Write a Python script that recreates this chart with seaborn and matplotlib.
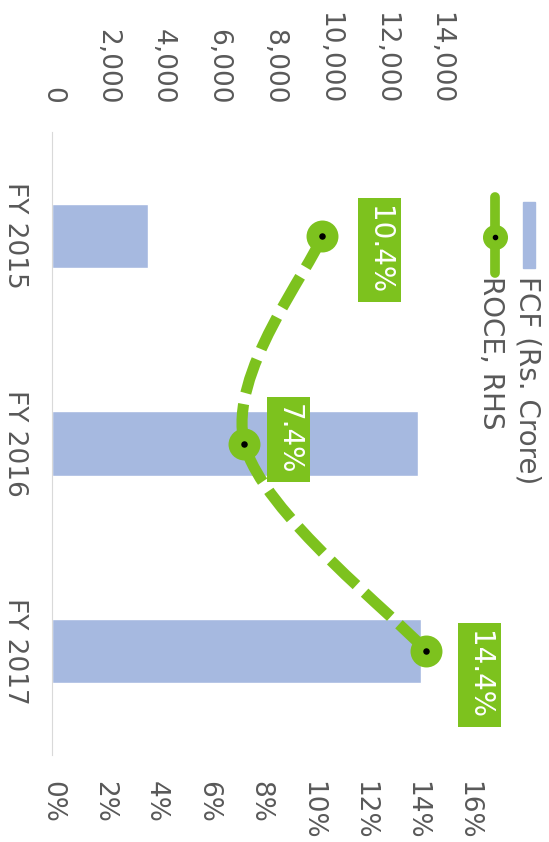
import numpy as np
import pandas as pd
import matplotlib
matplotlib.use("Agg")
import matplotlib.pyplot as plt
import matplotlib.ticker as mticker
from matplotlib.path import Path
from matplotlib.patches import PathPatch, Rectangle
from matplotlib.lines import Line2D
import seaborn as sns

# Data
years = ["FY 2015", "FY 2016", "FY 2017"]
fcf = [3470, 13180, 13290]          # Rs. Crore
roce = [10.4, 7.4, 14.4]            # %
roce_labels = ["10.4%", "7.4%", "14.4%"]
fcf_ticks = [0, 2000, 4000, 6000, 8000, 10000, 12000, 14000]
roce_ticks = [0, 2, 4, 6, 8, 10, 12, 14, 16]

bar_color = "#A6B9E0"
green = "#7DC21E"
grey = "#595959"

sns.set_style("white")
plt.rcParams["font.family"] = ["DejaVu Sans"]

fig = plt.figure(figsize=(5.49, 8.42), dpi=100)
ax = fig.add_axes([52 / 549, 1 - 755 / 842, 416 / 549, 623 / 842])

df = pd.DataFrame({"year": years, "fcf": fcf, "roce": roce})
sns.barplot(data=df, x="fcf", y="year", orient="h", color=bar_color,
            saturation=1, width=0.31, ax=ax)
ax2 = ax.twiny()

ax.set_ylim(2.5, -0.5)
ax.set_xlim(0, 15000)
ax.set_xlabel("")
ax.set_ylabel("")
ax.set_xticks(fcf_ticks)
ax.xaxis.set_major_formatter(mticker.StrMethodFormatter("{x:,.0f}"))
ax.xaxis.set_ticks_position("top")
ax.tick_params(axis="x", length=0, pad=20, labelsize=19, labelcolor=grey,
               rotation=-90, labeltop=True, labelbottom=False)
ax.set_yticks(range(len(years)))
ax.set_yticklabels(years, rotation=-90, va="center", ha="right",
                   fontsize=19, color=grey)
ax.tick_params(axis="y", length=0, pad=17)
for s in ["top", "right", "bottom"]:
    ax.spines[s].set_visible(False)
ax.spines["left"].set_color("#D9D9D9")
ax.grid(False)

# ROCE on the second value axis
ax2.set_xlim(0, 16)
ax2.set_xticks(roce_ticks)
ax2.xaxis.set_major_formatter(mticker.StrMethodFormatter("{x:.0f}%"))
ax2.xaxis.set_ticks_position("bottom")
ax2.tick_params(axis="x", length=0, pad=19, labelsize=19, labelcolor=grey,
                rotation=-90, labelbottom=True, labeltop=False)
for s in ax2.spines.values():
    s.set_visible(False)
ax2.grid(False)

# smoothed dashed line (Bezier through the points, like Excel "smoothed line")
ypos = np.arange(len(years))
pts = np.column_stack([roce, ypos]).astype(float)
n = len(pts)
verts = [pts[0]]
codes = [Path.MOVETO]
for i in range(n - 1):
    p0 = pts[max(i - 1, 0)]
    p1 = pts[i]
    p2 = pts[i + 1]
    p3 = pts[min(i + 2, n - 1)]
    verts += [p1 + (p2 - p0) / 6, p2 - (p3 - p1) / 6, p2]
    codes += [Path.CURVE4] * 3
ax2.add_patch(PathPatch(Path(verts, codes), fill=False, edgecolor=green,
                        lw=8, linestyle=(0, (3.2, 1.0)), capstyle="butt",
                        zorder=3))

sns.scatterplot(x=roce, y=ypos, ax=ax2, s=23 ** 2, color=green,
                linewidth=0, zorder=4, legend=False)
sns.scatterplot(x=roce, y=ypos, ax=ax2, s=22, color="black",
                linewidth=0, zorder=5, legend=False)
ax2.set_ylim(2.5, -0.5)

offsets = [(41, -10), (31.7, 2.9), (38.2, -17.3)]
for r, y, lbl, off in zip(roce, ypos, roce_labels, offsets):
    ax2.annotate(lbl, xy=(r, y), xytext=off, textcoords="offset points",
                 rotation=-90, ha="center", va="center", color="white",
                 fontsize=20, zorder=6,
                 bbox=dict(boxstyle="square,pad=0.28", fc=green, ec="none"))

# legend (drawn rotated like the rest of the chart)
fig.add_artist(Rectangle((523 / 549, 1 - 268 / 842), 12 / 549, 66 / 842,
                         transform=fig.transFigure, color=bar_color))
fig.add_artist(Line2D([495 / 549, 495 / 549], [1 - 197 / 842, 1 - 273 / 842],
                      transform=fig.transFigure, color=green, lw=7))
fig.add_artist(Line2D([495 / 549], [1 - 237 / 842], transform=fig.transFigure,
                      marker="o", ms=17, color=green, lw=0))
fig.add_artist(Line2D([495 / 549], [1 - 237 / 842], transform=fig.transFigure,
                      marker="o", ms=3, color="black", lw=0))
fig.text(527 / 549, 1 - 276 / 842, "FCF (Rs. Crore)", rotation=-90,
         ha="center", va="top", fontsize=20, color=grey)
fig.text(491 / 549, 1 - 276 / 842, "ROCE, RHS", rotation=-90,
         ha="center", va="top", fontsize=20, color=grey)

fig.savefig("out.png", dpi=100)
